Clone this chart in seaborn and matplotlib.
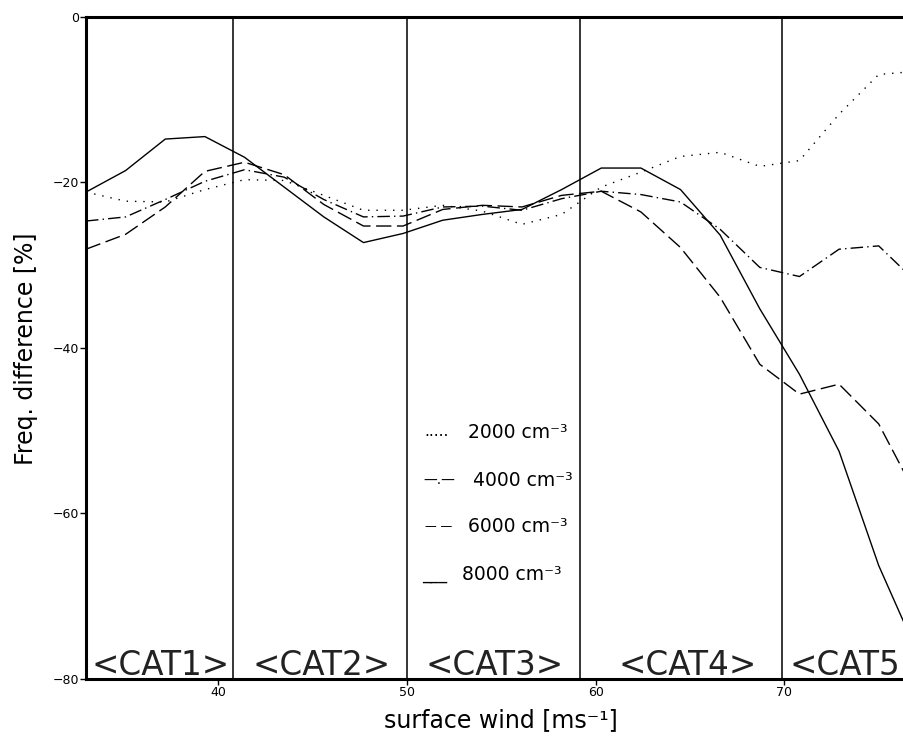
import matplotlib
matplotlib.use("Agg")
import matplotlib.pyplot as plt
import seaborn as sns

# surface wind bins [m/s] and freq. difference [%] for each concentration
wind = [33.0, 35.1, 37.2, 39.3, 41.4, 43.5, 45.6, 47.7, 49.8, 51.9, 54.0,
        56.1, 58.2, 60.3, 62.4, 64.5, 66.6, 68.7, 70.8, 72.9, 75.0, 77.1]
ccn_2000 = [-21.2, -22.3, -22.4, -20.9, -19.7, -19.8, -21.6, -23.4, -23.4, -22.8, -23.5,
            -25.1, -23.9, -20.6, -18.8, -16.9, -16.4, -18.1, -17.4, -11.8, -7.0, -6.6]
ccn_4000 = [-24.7, -24.2, -22.1, -19.9, -18.5, -19.4, -22.1, -24.2, -24.1, -23.0, -22.9,
            -23.4, -22.0, -21.1, -21.5, -22.4, -25.7, -30.3, -31.4, -28.1, -27.7, -32.3]
ccn_6000 = [-28.1, -26.3, -23.0, -18.7, -17.6, -19.1, -22.7, -25.3, -25.3, -23.3, -22.8,
            -23.0, -21.6, -21.1, -23.6, -27.9, -33.9, -42.0, -45.6, -44.4, -49.2, -58.3]
ccn_8000 = [-21.2, -18.6, -14.8, -14.5, -17.0, -20.6, -24.2, -27.3, -26.2, -24.6, -23.9,
            -23.3, -20.9, -18.3, -18.3, -20.9, -26.4, -35.3, -43.2, -52.5, -66.3, -77.1]

# hurricane category boundaries and labels (CAT5 is cut by the right edge)
cat_bounds = [40.8, 50.0, 59.2, 69.9]
cat_labels = ["<CAT1>", "<CAT2>", "<CAT3>", "<CAT4>", "<CAT5"]
cat_label_x = [36.96, 45.5, 54.66, 64.9, 70.25]

legend_symbols = [".....", "\u2014.\u2014", "\u2014 \u2014", "___"]
legend_labels = ["2000 cm\u207b\u00b3", "4000 cm\u207b\u00b3",
                 "6000 cm\u207b\u00b3", "8000 cm\u207b\u00b3"]

sns.set_style("ticks")
plt.rcParams['font.family'] = ['DejaVu Sans']
plt.rcParams.update({"text.color": "black", "axes.labelcolor": "black",
                     "xtick.color": "black", "ytick.color": "black"})

fig = plt.figure(figsize=(9.04, 7.39), dpi=100)
ax = fig.add_axes([86 / 904, 60 / 739, 818 / 904, 662.5 / 739])

series = [(ccn_2000, (0, (1, 5))),
          (ccn_4000, (0, (9, 3, 1, 3))),
          (ccn_6000, (0, (11, 4))),
          (ccn_8000, "-")]
for vals, ls in series:
    sns.lineplot(x=wind, y=vals, ax=ax, color="black", linewidth=1.0,
                 linestyle=ls, legend=False)

for xb in cat_bounds:
    ax.axvline(xb, color="black", linewidth=1.1)

for lab, xc in zip(cat_labels, cat_label_x):
    ax.text(xc, -79.5, lab, ha="left" if lab == "<CAT5" else "center",
            va="baseline", fontsize=23.5, color="#222222", clip_on=False)

# text legend (symbols drawn as characters, like the original)
leg_y = [432, 480, 527, 574]
sym_x = [424, 423, 425, 422]
sym_fs = [11, 10, 8.5, 12]
lab_x = [468, 473, 468, 462]
for sym, lab, py, sx, fs, lx in zip(legend_symbols, legend_labels, leg_y,
                                    sym_x, sym_fs, lab_x):
    fig.text(sx / 904, 1 - py / 739, sym, ha="left", va="center", fontsize=fs)
    fig.text(lx / 904, 1 - py / 739, lab, ha="left", va="center", fontsize=13.5)

ax.set_xlim(33.0, 76.34)
ax.set_ylim(-80, 0)
ax.set_xticks([40, 50, 60, 70])
ax.set_yticks([-80, -60, -40, -20, 0])
ax.tick_params(axis="both", labelsize=9, length=4, width=1, pad=1, color="black")

for side in ["top", "left", "bottom"]:
    ax.spines[side].set_linewidth(2.2)
    ax.spines[side].set_color("black")
ax.spines["right"].set_visible(False)

fig.text(501 / 904, 1 - 720 / 739, "surface wind [ms\u207b\u00b9]", ha="center",
         va="center", fontsize=17)
fig.text(26 / 904, 1 - 349 / 739, "Freq. difference [%]", ha="center",
         va="center", fontsize=17, rotation=90)

plt.savefig("out.png", dpi=100)
